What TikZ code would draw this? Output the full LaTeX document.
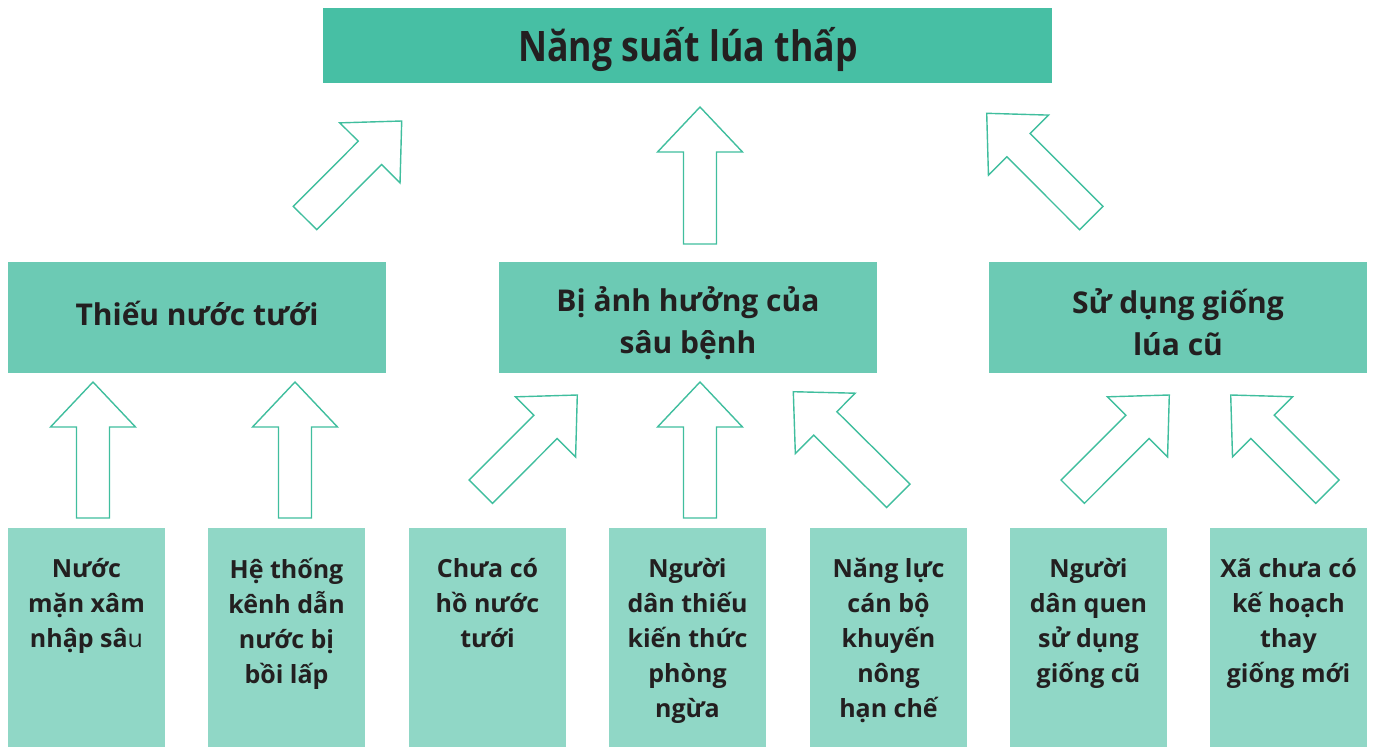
\documentclass[tikz,border=0pt]{standalone}
\usepackage{fontspec}
\usepackage{graphicx}
\setmainfont{Open Sans}
\usetikzlibrary{calc}
\definecolor{topc}{RGB}{71,191,164}
\definecolor{midc}{RGB}{108,202,180}
\definecolor{botc}{RGB}{144,215,198}
\definecolor{arrc}{RGB}{64,190,158}
\definecolor{txt}{RGB}{35,31,32}
\tikzset{
  topbox/.style={fill=topc, draw=none},
  midbox/.style={fill=midc, draw=none},
  botbox/.style={fill=botc, draw=none},
  toptext/.style={text=txt, font=\bfseries\fontsize{42}{48}\selectfont, inner sep=0pt},
  midtext/.style={text=txt, font=\bfseries\fontsize{30}{42}\selectfont, align=center, inner sep=0pt},
  bottext/.style={text=txt, font=\bfseries\fontsize{25}{35}\selectfont, align=center, inner sep=0pt, anchor=north},
  blockarr/.style={draw=arrc, line width=1.4pt, fill=white, line join=miter},
}
\newcommand\blockarrow[2]{%
  \path coordinate (ba-h) at ($(#2)!45pt!(#1)$);
  \draw[blockarr] ($(#1)!16.5pt!90:(#2)$) -- ($(ba-h)!16.5pt!90:(#2)$) -- ($(ba-h)!42.5pt!90:(#2)$) -- (#2)
    -- ($(ba-h)!42.5pt!-90:(#2)$) -- ($(ba-h)!16.5pt!-90:(#2)$) -- ($(#1)!16.5pt!-90:(#2)$) -- cycle;
}
\begin{document}
\begin{tikzpicture}[x=1pt,y=-1pt]
\useasboundingbox (0,0) rectangle (1375,747);
% top
\fill[topbox] (323,8) rectangle (1052,83);
\node[toptext] (top) at (688,49) {\scalebox{0.85}[1]{Năng suất lúa thấp}};
% middle
\fill[midbox] (8,262) rectangle (386,373);
\fill[midbox] (499,262) rectangle (877,373);
\fill[midbox] (989,262) rectangle (1367,373);
\node[midtext] (m1) at (197,313) {Thiếu nước tưới};
\node[midtext] (m2) at (688,323) {Bị ảnh hưởng của\\sâu bệnh};
\node[midtext] (m3) at (1178,322) {Sử dụng giống\\lúa cũ};
% bottom
\foreach \x in {8,208,409,609,810,1010,1210}{\fill[botbox] (\x,528) rectangle ({\x+157},747);}
\node[bottext] (b1) at (86.5,558) {Nước\\mặn xâm\\nhập sâ{\mdseries u}};
\node[bottext] (b2) at (286.5,558) {Hệ thống\\kênh dẫn\\nước bị\\bồi lấp};
\node[bottext] (b3) at (487.5,558) {Chưa có\\hồ nước\\tưới};
\node[bottext] (b4) at (687.5,558) {Người\\dân thiếu\\kiến thức\\phòng\\ngừa};
\node[bottext] (b5) at (888.5,558) {Năng lực\\cán bộ\\khuyến\\nông\\hạn chế};
\node[bottext] (b6) at (1088.5,558) {Người\\dân quen\\sử dụng\\giống cũ};
\node[bottext] (b7) at (1288.5,558) {Xã chưa có\\kế hoạch\\thay\\giống mới};
% arrow coordinates
\coordinate (a1s) at (305,218);   \coordinate (a1e) at (401.7,121);
\coordinate (a2s) at (700,244);   \coordinate (a2e) at (700,107);
\coordinate (a3s) at (1091.3,218); \coordinate (a3e) at (986.7,113.3);
\coordinate (c1s) at (93,518);    \coordinate (c1e) at (93,382);
\coordinate (c2s) at (295,518);   \coordinate (c2e) at (295,382);
\coordinate (c3s) at (480.8,491.7); \coordinate (c3e) at (577.3,395);
\coordinate (c4s) at (700,518);   \coordinate (c4e) at (700,382);
\coordinate (c5s) at (898.3,495.8); \coordinate (c5e) at (793.3,391.7);
\coordinate (c6s) at (1072.7,491.7); \coordinate (c6e) at (1169.3,395);
\coordinate (c7s) at (1327.5,491.7); \coordinate (c7e) at (1230.7,395);
\blockarrow{a1s}{a1e}
\blockarrow{a2s}{a2e}
\blockarrow{a3s}{a3e}
\blockarrow{c1s}{c1e}
\blockarrow{c2s}{c2e}
\blockarrow{c3s}{c3e}
\blockarrow{c4s}{c4e}
\blockarrow{c5s}{c5e}
\blockarrow{c6s}{c6e}
\blockarrow{c7s}{c7e}
\end{tikzpicture}
\end{document}
